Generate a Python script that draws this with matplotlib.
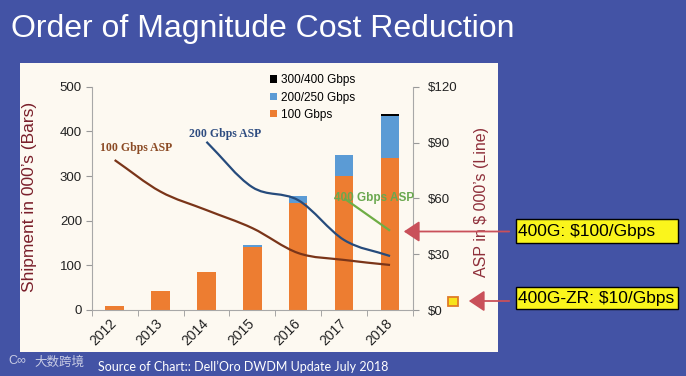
import matplotlib
matplotlib.use('Agg')
import matplotlib.pyplot as plt
from matplotlib.patches import Rectangle, Patch, FancyArrowPatch, PathPatch
from matplotlib.path import Path
import numpy as np

# ---------------- data ----------------
years = ['2012', '2013', '2014', '2015', '2016', '2017', '2018']
ship_100g = [10, 42, 86, 140, 240, 300, 340]
ship_200g = [0, 0, 0, 5, 16, 48, 94]
ship_400g = [0, 0, 0, 0, 0, 0, 4]
asp_100g = [80.6, 63.6, 53.7, 44.0, 30.6, 26.9, 24.2]
asp_200g = [np.nan, np.nan, 90.4, 66.0, 59.0, 37.6, 29.0]
asp_400g = [np.nan, np.nan, np.nan, np.nan, np.nan, 60.0, 42.6]
left_ticks = [0, 100, 200, 300, 400, 500]
right_ticks = [0, 30, 60, 90, 120]
legend_labels = ['300/400 Gbps', '200/250 Gbps', '100 Gbps']
title = 'Order of Magnitude Cost Reduction'
source = 'Source of Chart:: Dell\u2019Oro DWDM Update July 2018'
callout_1 = '400G: $100/Gbps'
callout_2 = '400G-ZR: $10/Gbps'

# ---------------- style ----------------
W, H = 686, 376
BG = '#4353A5'
PANEL = '#FDF9F1'
ORANGE = '#ED7D31'
BLUE = '#5B9BD5'
C100 = '#7A3519'
C200 = '#264B7C'
C400 = '#6FAD45'
RED = '#C9505A'

plt.rcParams['font.family'] = ['Liberation Sans', 'DejaVu Sans']

fig = plt.figure(figsize=(W / 100, H / 100), dpi=100, facecolor=BG)

def fx(px):
    return px / W

def fy(py):
    return 1 - py / H

def smooth_line(axis, xs, ys, color, lw):
    """Draw a smoothed (Excel-style) line through the data points."""
    xs = np.asarray(xs, float)
    ys = np.asarray(ys, float)
    ok = ~np.isnan(ys)
    px, py = xs[ok], ys[ok]
    n = len(px)
    if n < 3:
        axis.plot(px, py, color=color, lw=lw, zorder=3, solid_capstyle='butt')
        return
    mx = np.empty(n)
    my = np.empty(n)
    mx[1:-1] = (px[2:] - px[:-2]) / 2
    my[1:-1] = (py[2:] - py[:-2]) / 2
    mx[0], my[0] = px[1] - px[0], py[1] - py[0]
    mx[-1], my[-1] = px[-1] - px[-2], py[-1] - py[-2]
    verts = [(px[0], py[0])]
    codes = [Path.MOVETO]
    for i in range(n - 1):
        verts += [(px[i] + mx[i] / 3, py[i] + my[i] / 3),
                  (px[i + 1] - mx[i + 1] / 3, py[i + 1] - my[i + 1] / 3),
                  (px[i + 1], py[i + 1])]
        codes += [Path.CURVE4] * 3
    axis.add_patch(PathPatch(Path(verts, codes), facecolor='none', edgecolor=color,
                             lw=lw, zorder=3))

# cream panel
fig.patches.append(Rectangle((fx(20), fy(352)), fx(498) - fx(20), fy(63) - fy(352),
                             transform=fig.transFigure, facecolor=PANEL,
                             edgecolor='none', zorder=-5))

ax = fig.add_axes([fx(91.7), fy(310), fx(413) - fx(91.7), fy(86.7) - fy(310)])
ax.set_facecolor('none')
x = np.arange(len(years))
bw = 0.4
ax.bar(x, ship_100g, bw, color=ORANGE, zorder=2)
ax.bar(x, ship_200g, bw, bottom=ship_100g, color=BLUE, zorder=2)
bottom3 = np.array(ship_100g) + np.array(ship_200g)
ax.bar(x, ship_400g, bw, bottom=bottom3, color='black', zorder=2)

ax.set_xlim(-0.5, len(years) - 0.5)
ax.set_ylim(0, 500)
ax.set_yticks(left_ticks)
ax.set_yticklabels([str(v) for v in left_ticks], fontsize=9.5, color='#222222')
ax.set_xticks(x)
ax.set_xticklabels(years, rotation=45, ha='right', va='center',
                   rotation_mode='anchor', fontsize=10, color='#222222')
ax.set_xticks(np.arange(-0.5, len(years)), minor=True)
ax.tick_params(axis='x', which='major', length=0, pad=8)
ax.tick_params(axis='x', which='minor', length=4, color='#999999')
ax.tick_params(axis='y', length=4, color='#999999', pad=3)
for s in ['top', 'right']:
    ax.spines[s].set_visible(False)
for s in ['left', 'bottom']:
    ax.spines[s].set_color('#A8A8A8')
ax.set_ylabel('Shipment in 000\u2019s (Bars)', fontsize=12.5, color='#7A1F2A')
ax.yaxis.set_label_coords((37.5 - 91.7) / (413 - 91.7), (310 - 196.5) / (310 - 86.7))

ax2 = ax.twinx()
ax2.set_ylim(0, 120)
ax2.set_yticks(right_ticks)
ax2.set_yticklabels(['\\$' + str(v) for v in right_ticks], fontsize=9.5, color='#222222')
ax2.tick_params(axis='y', length=4, color='#999999', pad=7)
for s in ['top', 'left', 'bottom']:
    ax2.spines[s].set_visible(False)
ax2.spines['right'].set_color('#A8A8A8')
ax2.set_ylabel('ASP in \\$ 000\u2019s (Line)', fontsize=11.5, color='#8E2F3A')
ax2.yaxis.set_label_coords((474 - 91.7) / (413 - 91.7), (310 - 202) / (310 - 86.7))

smooth_line(ax2, x, asp_100g, C100, 1.6)
smooth_line(ax2, x, asp_200g, C200, 1.6)
smooth_line(ax2, x, asp_400g, C400, 1.6)

# line labels
fig.text(fx(136), fy(148), '100 Gbps ASP', fontsize=8.5, fontweight='bold',
         family='Liberation Serif', color='#8B4A24', ha='center', va='center')
fig.text(fx(225), fy(134), '200 Gbps ASP', fontsize=8.5, fontweight='bold',
         family='Liberation Serif', color='#2E4C80', ha='center', va='center')
fig.text(fx(374), fy(198), '400 Gbps ASP', fontsize=8.5, fontweight='bold',
         color='#6AA84F', ha='center', va='center')

# legend
handles = [Patch(facecolor='black'), Patch(facecolor=BLUE), Patch(facecolor=ORANGE)]
fig.legend(handles, legend_labels, loc='upper left',
           bbox_to_anchor=(fx(262), fy(66)), frameon=False, fontsize=8.5,
           handlelength=0.6, handleheight=0.6, handletextpad=0.3,
           labelspacing=0.45, borderpad=0.2)

# title
fig.text(fx(11), fy(29), title, fontsize=23, color='white', ha='left', va='center')

# source line
fig.text(fx(98), fy(367), source, fontsize=9, color='white', family='Lato',
         ha='left', va='center')
fig.text(fx(34), fy(362), '大数跨境', fontsize=9, color='#C8CCE4',
         family=['Noto Sans CJK SC', 'DejaVu Sans'], ha='left', va='center')
fig.text(fx(8), fy(361), 'C\u221e', fontsize=9, color='#C8CCE4', ha='left', va='center')

# callouts (fixed-width yellow boxes)
for (y0, y1, txt) in [(219, 243, callout_1), (287, 309, callout_2)]:
    fig.patches.append(Rectangle((fx(516), fy(y1)), fx(678) - fx(516), fy(y0) - fy(y1),
                                 transform=fig.transFigure, facecolor='#FAF51C',
                                 edgecolor='black', linewidth=1.0, zorder=5))
    fig.text(fx(518), fy((y0 + y1) / 2 + 0.5), txt, fontsize=12.5, color='black',
             ha='left', va='center', zorder=6)

for (x0, x1, yy) in [(512, 401, 231.5), (512, 466, 301)]:
    arr = FancyArrowPatch((fx(x0), fy(yy)), (fx(x1), fy(yy)), transform=fig.transFigure,
                          arrowstyle='-|>,head_length=6,head_width=4', color=RED,
                          lw=1.3, mutation_scale=1.6, zorder=4)
    fig.patches.append(arr)

fig.patches.append(Rectangle((fx(448), fy(306)), fx(458) - fx(448), fy(297) - fy(306),
                             transform=fig.transFigure, facecolor='#F7E31A',
                             edgecolor='#E07B28', linewidth=1.3, zorder=5))

fig.savefig('out.png', dpi=100, facecolor=BG)
